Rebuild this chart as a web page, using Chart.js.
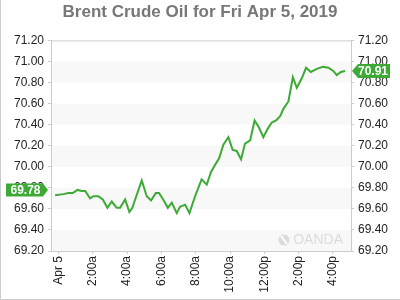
<!DOCTYPE html>
<html><head><meta charset="utf-8">
<script src="https://cdn.jsdelivr.net/npm/chart.js@4"></script>
<style>html,body{margin:0;padding:0;background:#fff}canvas{display:block}</style>
</head><body><canvas id="c" width="400" height="300"></canvas>
<script>
const titleText = 'Brent Crude Oil for Fri Apr 5, 2019';
const timeHours = [-0.20,0.28,0.57,0.83,1.10,1.35,1.55,1.84,2.03,2.32,2.58,2.85,3.10,3.39,3.59,3.88,4.13,4.30,4.85,5.14,5.39,5.67,5.86,6.17,6.37,6.60,6.89,7.08,7.38,7.63,7.96,8.34,8.64,8.89,9.13,9.36,9.61,9.90,10.15,10.39,10.64,10.87,11.17,11.43,11.69,11.94,12.19,12.43,12.68,12.92,13.11,13.40,13.66,13.89,14.18,14.43,14.71,15.06,15.41,15.73,16.02,16.22,16.46,16.71];
const prices = [69.73,69.74,69.75,69.75,69.78,69.77,69.77,69.70,69.72,69.72,69.69,69.61,69.67,69.61,69.61,69.69,69.57,69.61,69.87,69.72,69.68,69.75,69.75,69.67,69.61,69.66,69.56,69.62,69.64,69.56,69.72,69.88,69.83,69.95,70.02,70.08,70.21,70.28,70.16,70.15,70.07,70.22,70.25,70.44,70.37,70.28,70.36,70.42,70.44,70.48,70.55,70.62,70.85,70.75,70.84,70.94,70.90,70.93,70.95,70.94,70.91,70.87,70.90,70.91];
const tickHours = [0,2,4,6,8,10,12,14,16];
const tickLabels = ['Apr 5','2:00a','4:00a','6:00a','8:00a','10:00a','12:00p','2:00p','4:00p'];
const yMin = 69.2, yMax = 71.2, yStep = 0.2;
const xMin = -0.44, xMax = 17.05;
const prevClose = 69.78;
const lastPrice = 70.91;
const watermarkText = 'OANDA';

const GREEN = '#3daa35';
const FONT = '"Liberation Sans", Arial, sans-serif';

const decor = {
  id: 'decor',
  beforeDraw(chart) {
    const {ctx, chartArea: a, scales: {y}} = chart;
    ctx.save();
    ctx.fillStyle = '#f8f8f8';
    for (let v = yMin; v < yMax - 1e-9; v += 2 * yStep) {
      const top = y.getPixelForValue(v + yStep), bot = y.getPixelForValue(v);
      ctx.fillRect(a.left, top, a.right - a.left, bot - top);
    }
    ctx.restore();
  },
  beforeDatasetsDraw(chart) {
    const {ctx, chartArea: a} = chart;
    ctx.save();
    // watermark
    ctx.fillStyle = '#dcdcdc';
    ctx.font = '14px ' + FONT;
    ctx.textAlign = 'right';
    ctx.textBaseline = 'middle';
    ctx.fillText(watermarkText, a.right - 8, a.bottom - 11);
    const cx = a.right - 67, cy = a.bottom - 11;
    ctx.beginPath(); ctx.arc(cx, cy, 5.5, 0, Math.PI * 2); ctx.fill();
    ctx.strokeStyle = '#fff'; ctx.lineWidth = 2;
    ctx.beginPath(); ctx.moveTo(cx - 3, cy - 4); ctx.lineTo(cx + 3, cy + 4); ctx.stroke();
    // top frame
    ctx.strokeStyle = '#cccccc'; ctx.lineWidth = 1;
    ctx.beginPath(); ctx.moveTo(a.left, a.top + 0.5); ctx.lineTo(a.right, a.top + 0.5); ctx.stroke();
    ctx.restore();
  },
  afterDraw(chart) {
    const {ctx, chartArea: a, scales: {y}} = chart;
    ctx.save();
    ctx.font = 'bold 12px ' + FONT;
    ctx.textBaseline = 'middle';
    ctx.textAlign = 'center';
    // left label
    let yy = Math.round(y.getPixelForValue(prevClose));
    ctx.fillStyle = GREEN;
    ctx.beginPath();
    ctx.moveTo(6, yy - 6.5); ctx.lineTo(43, yy - 6.5); ctx.lineTo(48, yy); ctx.lineTo(43, yy + 6.5); ctx.lineTo(6, yy + 6.5); ctx.closePath();
    ctx.fill();
    ctx.fillStyle = '#fff';
    ctx.fillText(prevClose.toFixed(2), 25.5, yy + 0.5);
    // right label
    yy = Math.round(y.getPixelForValue(lastPrice));
    const tip = a.right + 1;
    ctx.fillStyle = GREEN;
    ctx.beginPath();
    ctx.moveTo(tip, yy); ctx.lineTo(tip + 6, yy - 7); ctx.lineTo(390, yy - 7); ctx.lineTo(390, yy + 7); ctx.lineTo(tip + 6, yy + 7); ctx.closePath();
    ctx.fill();
    ctx.fillStyle = '#fff';
    ctx.fillText(lastPrice.toFixed(2), 373, yy + 0.5);
    // outer border left + bottom
    ctx.strokeStyle = '#cccccc'; ctx.lineWidth = 1;
    ctx.beginPath(); ctx.moveTo(0.5, 0); ctx.lineTo(0.5, 299.5); ctx.lineTo(400, 299.5); ctx.stroke();
    ctx.restore();
  }
};

const yAxisCommon = {
  type: 'linear', min: yMin, max: yMax,
  ticks: { stepSize: yStep, color: '#222', font: { size: 12, family: FONT }, padding: 4,
           callback: v => Number(v).toFixed(2) },
  grid: { drawOnChartArea: false, color: '#cccccc', tickLength: 3 },
  border: { color: '#cccccc' }
};

new Chart(document.getElementById('c'), {
  type: 'line',
  data: {
    datasets: [{
      data: timeHours.map((h, i) => ({ x: h, y: prices[i] })),
      borderColor: GREEN, borderWidth: 2, pointRadius: 0, tension: 0, fill: false
    }]
  },
  options: {
    responsive: false, animation: false, devicePixelRatio: 1,
    layout: { padding: 0 },
    plugins: {
      legend: { display: false }, tooltip: { enabled: false },
      title: { display: true, text: titleText, color: '#777', font: { size: 17, weight: 'bold', family: FONT },
               padding: { top: 2, bottom: 18 } }
    },
    scales: {
      x: {
        type: 'linear', min: xMin, max: xMax,
        afterBuildTicks: s => { s.ticks = tickHours.map(v => ({ value: v })); },
        afterFit: s => { s.height = 49; },
        ticks: { autoSkip: false, minRotation: 90, maxRotation: 90, color: '#222', padding: 2,
                 font: { size: 12, family: FONT },
                 callback: (v, i) => tickLabels[i] },
        grid: { drawOnChartArea: false, color: '#cccccc', tickLength: 3 },
        border: { color: '#cccccc' }
      },
      y: Object.assign({}, yAxisCommon, { position: 'left', afterFit: s => { s.width = 51; } }),
      y2: Object.assign({}, yAxisCommon, { position: 'right', afterFit: s => { s.width = 49; } })
    }
  },
  plugins: [decor]
});
</script>
</body></html>
